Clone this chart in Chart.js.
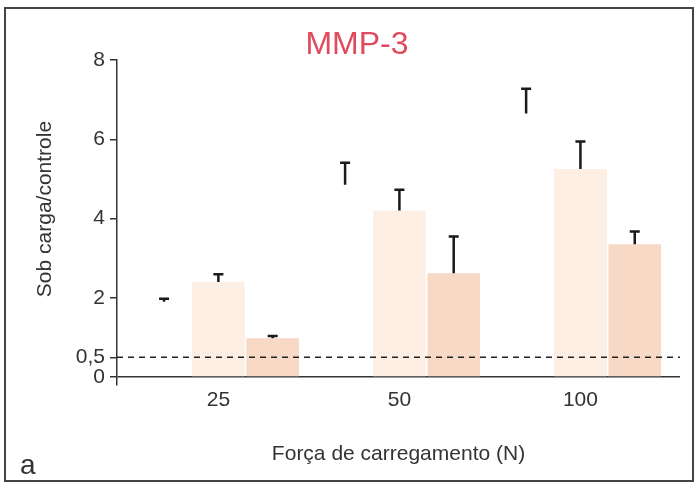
<!DOCTYPE html>
<html>
<head>
<meta charset="utf-8">
<script src="https://cdn.jsdelivr.net/npm/chart.js@4"></script>
<style>
  html, body { margin: 0; padding: 0; background: #fff; }
  #wrap { width: 696px; height: 485px; }
</style>
</head>
<body>
<div id="wrap"><canvas id="mmp3" width="696" height="485"></canvas></div>
<script>
// values
var forces = ["25", "50", "100"];
var yTicks = [0, 0.5, 2, 4, 6, 8];
var hiddenVals = [1.9, 4.85, 6.65];
var hiddenErr = [0.1, 0.58, 0.65];
var lightVals = [2.4, 4.2, 5.25];
var lightErr = [0.22, 0.55, 0.72];
var darkVals = [0.98, 2.62, 3.35];
var darkErr = [0.08, 0.95, 0.35];
var threshold = 0.5;

var FONT = "'Liberation Sans', Arial, sans-serif";
var INK = "#333";

// bars sit on a numeric x axis so the groups can be placed like the figure
function pts(vals) {
  return vals.map(function (v, i) { return { x: i + 1, y: v }; });
}

// frame, title, y title and panel letter
var decor = {
  id: "decor",
  beforeDraw: function (chart) {
    var c = chart.ctx;
    c.save();
    c.fillStyle = "#fff";
    c.fillRect(0, 0, chart.width, chart.height);
    c.strokeStyle = "#444";
    c.lineWidth = 2;
    c.strokeRect(5, 8, chart.width - 8, chart.height - 12);
    c.restore();
  },
  afterDraw: function (chart) {
    var c = chart.ctx;
    c.save();
    c.fillStyle = "#e04a5c";
    c.font = "32px " + FONT;
    c.textAlign = "center";
    c.textBaseline = "middle";
    c.fillText("MMP-3", 357, 45);

    c.fillStyle = INK;
    c.font = "21px " + FONT;
    c.translate(45, 209);
    c.rotate(-Math.PI / 2);
    c.fillText("Sob carga/controle", 0, 0);
    c.setTransform(1, 0, 0, 1, 0, 0);

    c.font = "28px " + FONT;
    c.textAlign = "left";
    c.textBaseline = "alphabetic";
    c.fillText("a", 20, 474);
    c.restore();
  }
};

// dashed 0.5 line and T-shaped error bars
var errorBars = {
  id: "errorBars",
  afterDatasetsDraw: function (chart) {
    var c = chart.ctx;
    var y = chart.scales.y;
    var area = chart.chartArea;
    c.save();
    var yy = y.getPixelForValue(threshold);
    c.strokeStyle = "#222";
    c.lineWidth = 1.5;
    c.setLineDash([6, 5]);
    c.beginPath();
    c.moveTo(area.left, yy);
    c.lineTo(area.right, yy);
    c.stroke();
    c.setLineDash([]);

    chart.data.datasets.forEach(function (ds, i) {
      var meta = chart.getDatasetMeta(i);
      meta.data.forEach(function (bar, j) {
        var v = ds.vals[j];
        var e = ds.errs[j];
        var x = bar.x;
        var y0 = y.getPixelForValue(v);
        var y1 = y.getPixelForValue(v + e);
        c.strokeStyle = "#1a1a1a";
        c.lineWidth = 2.5;
        c.beginPath();
        c.moveTo(x, y0);
        c.lineTo(x, y1);
        c.moveTo(x - 5, y1 + 1);
        c.lineTo(x + 5, y1 + 1);
        c.stroke();
      });
    });
    c.restore();
  }
};

var ctx = document.getElementById("mmp3").getContext("2d");
var chart = new Chart(ctx, {
  type: "bar",
  data: {
    datasets: [
      { data: pts(hiddenVals), vals: hiddenVals, errs: hiddenErr, backgroundColor: "rgba(255,255,255,0)" },
      { data: pts(lightVals), vals: lightVals, errs: lightErr, backgroundColor: "#fdefe4" },
      { data: pts(darkVals), vals: darkVals, errs: darkErr, backgroundColor: "#f7d9c6" }
    ]
  },
  options: {
    responsive: false,
    animation: false,
    layout: { padding: { top: 60, right: 16, left: 0, bottom: 0 } },
    datasets: { bar: { barPercentage: 0.97, categoryPercentage: 0.9 } },
    plugins: {
      legend: { display: false },
      tooltip: { enabled: false }
    },
    scales: {
      x: {
        type: "linear",
        min: 0.44,
        max: 3.55,
        offset: false,
        afterBuildTicks: function (s) {
          s.ticks = forces.map(function (f, i) { return { value: i + 1 }; });
        },
        grid: { display: false },
        border: { display: false },
        ticks: {
          color: INK,
          font: { family: FONT, size: 21 },
          padding: -5,
          callback: function (v) { return forces[v - 1]; }
        },
        title: {
          display: true,
          text: "Força de carregamento (N)",
          color: INK,
          font: { family: FONT, size: 21 },
          padding: { top: 0, bottom: 18 }
        },
        afterFit: function (s) { s.height = 100; }
      },
      y: {
        min: -0.2,
        max: 8,
        afterBuildTicks: function (s) {
          s.ticks = yTicks.map(function (v) { return { value: v }; });
        },
        ticks: {
          color: INK,
          font: { family: FONT, size: 21 },
          padding: 5,
          callback: function (v) { return String(v).replace(".", ","); }
        },
        grid: {
          color: function (c) { return c.tick && c.tick.value === 0 ? INK : "rgba(0,0,0,0)"; },
          tickColor: INK,
          tickLength: 7,
          lineWidth: 1.5
        },
        border: { display: true, color: INK, width: 1.5 },
        afterFit: function (s) { s.width = 117; }
      }
    }
  },
  plugins: [decor, errorBars]
});
</script>
</body>
</html>
